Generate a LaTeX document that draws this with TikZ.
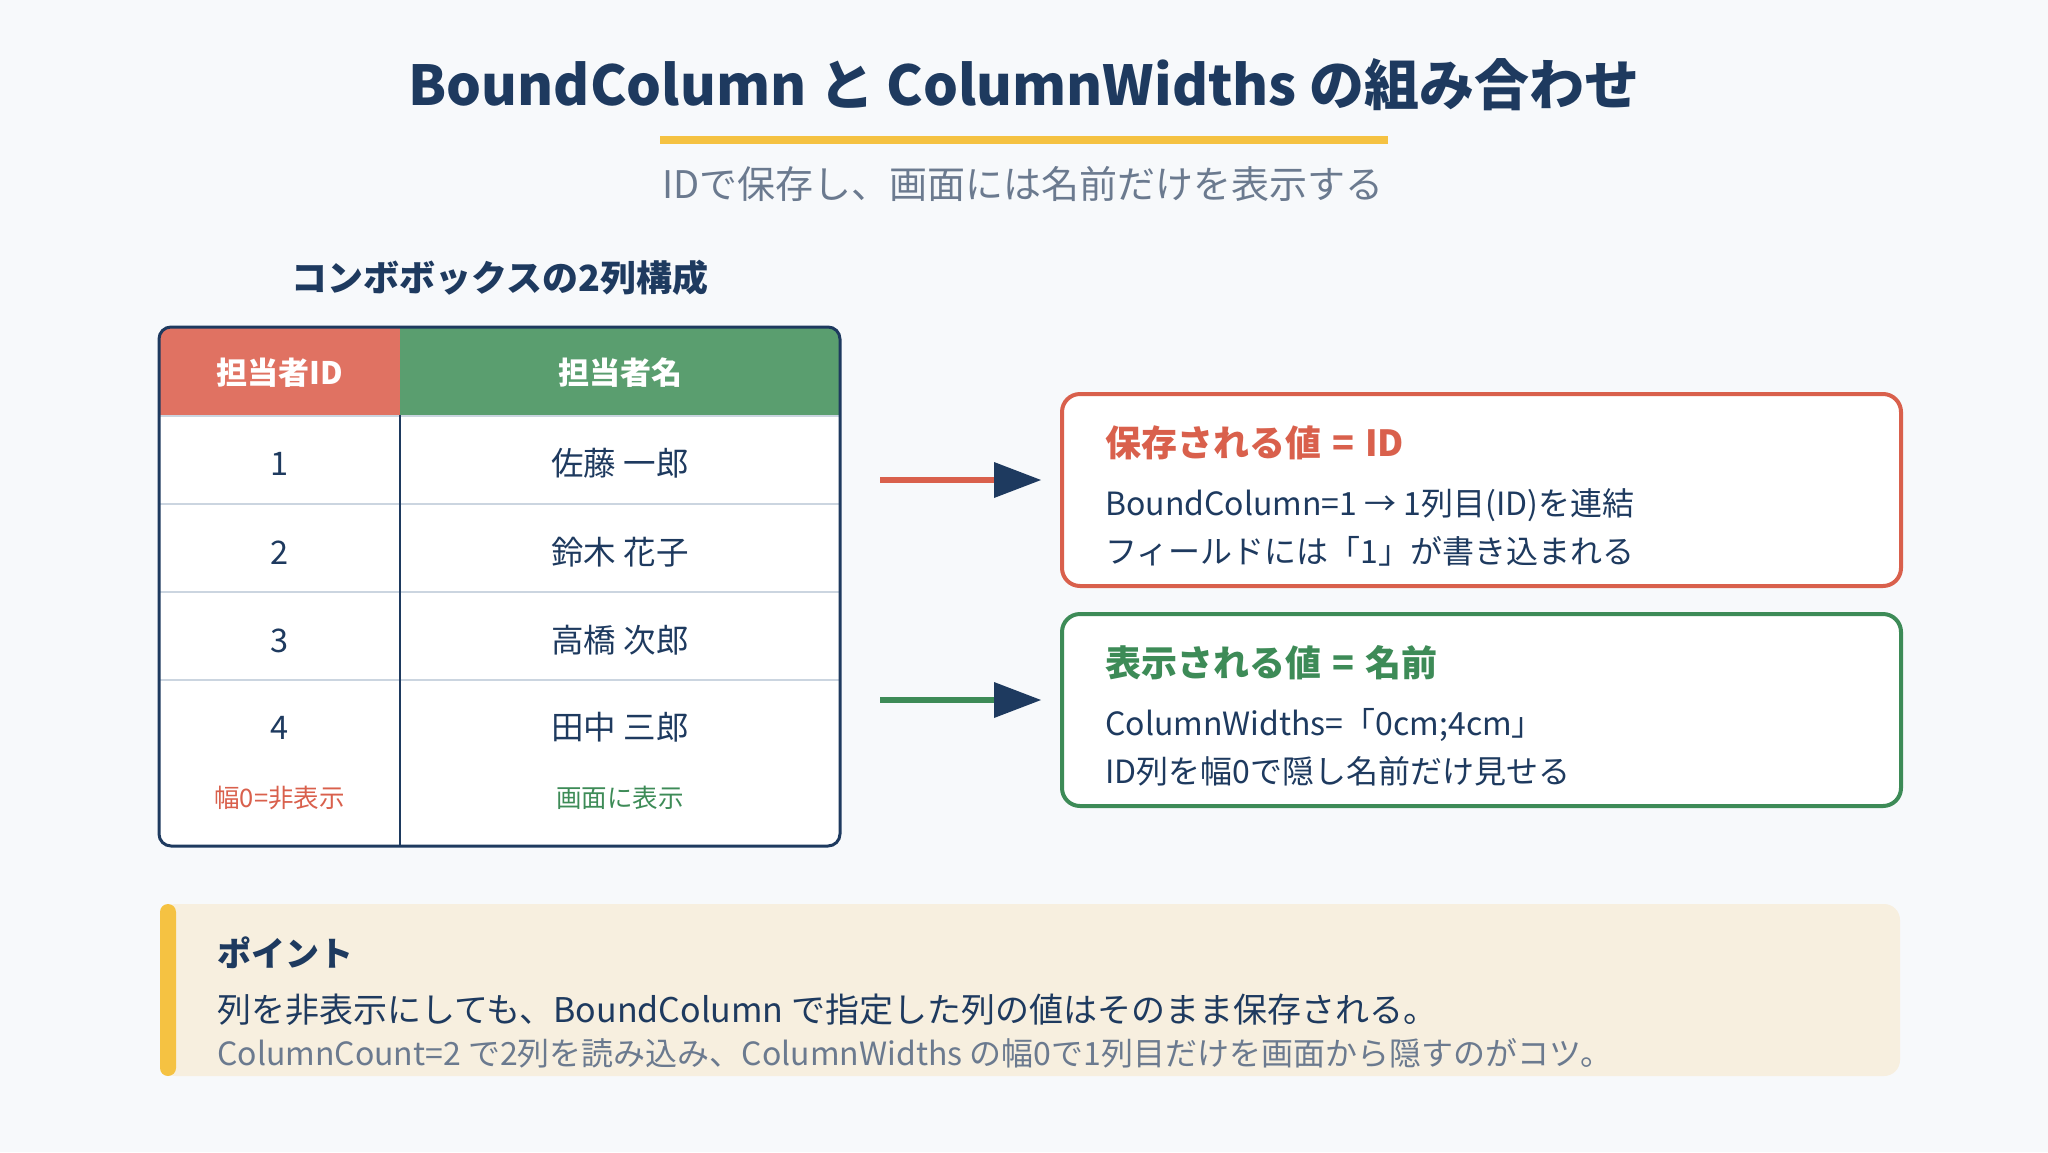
\documentclass[tikz,border=0pt]{standalone}
\usepackage{fontspec}
\setmainfont{Noto Sans CJK JP}
\usetikzlibrary{arrows.meta}
\definecolor{bcnavy}{HTML}{1E3A5F}
\definecolor{bcred}{HTML}{D9604C}
\definecolor{bcredhd}{HTML}{E07262}
\definecolor{bcgreen}{HTML}{3D8B57}
\definecolor{bcgreenhd}{HTML}{5A9E6F}
\definecolor{bcyellow}{HTML}{F5C242}
\definecolor{bccream}{HTML}{F7EFDF}
\definecolor{bcgrey}{HTML}{6B7A8F}
\definecolor{bcrule}{HTML}{CBD5E0}
\definecolor{bcbg}{HTML}{F7F9FB}
\newcommand{\bcsize}[1]{\fontsize{#1}{#1}\selectfont}
\newcommand{\bceq}{\hspace{11pt}=\hspace{11pt}}

\begin{document}
\begin{tikzpicture}[x=1pt,y=-1pt,
  cell/.style={anchor=base,inner sep=0,text=bcnavy,font=\bcsize{32.5}},
  boxttl/.style={anchor=base west,inner sep=0,font=\bcsize{36}\bfseries},
  boxln/.style={anchor=base west,inner sep=0,text=bcnavy,font=\bcsize{32}},
  valbox/.style={draw,line width=4,rounded corners=18,fill=white,minimum width=839,minimum height=192,anchor=north west,inner sep=0},
  flow/.style={line width=6,-{Triangle[length=47pt,width=36pt,line width=0pt,color=bcnavy]},shorten >=19pt}]
\useasboundingbox (0,0) rectangle (2048,1152);
\fill[bcbg] (0,0) rectangle (2048,1152);
% title
\node[anchor=base,inner sep=0,text=bcnavy,font=\bcsize{55}\bfseries] (title) at (1024,105) {BoundColumn と ColumnWidths の組み合わせ};
\fill[bcyellow] (660,136) rectangle (1388,144);
\node[anchor=base,inner sep=0,text=bcgrey,font=\bcsize{38}] (subtitle) at (1023,198) {IDで保存し、画面には名前だけを表示する};
% table
\node[anchor=base,inner sep=0,text=bcnavy,font=\bcsize{36}\bfseries] (tblhead) at (500,291) {コンボボックスの2列構成};
\begin{scope}
\clip[rounded corners=12] (159,327) rectangle (840,846);
\fill[white] (159,327) rectangle (840,846);
\fill[bcredhd] (159,327) rectangle (400,415);
\fill[bcgreenhd] (400,327) rectangle (840,415);
\end{scope}
\foreach \y in {416,504,592,680}
  \draw[bcrule,line width=2] (159,\y) -- (840,\y);
\draw[bcnavy,line width=2] (400,415) -- (400,846);
\draw[bcnavy,line width=3,rounded corners=12] (159,327) rectangle (840,846);
\node[cell,text=white,font=\bcsize{31}\bfseries] (hid) at (279.5,384) {担当者ID};
\node[cell,text=white,font=\bcsize{31}\bfseries] (hname) at (620,384) {担当者名};
\foreach \i/\nm/\y in {1/佐藤 一郎/475,2/鈴木 花子/564,3/高橋 次郎/652,4/田中 三郎/739}{
  \node[cell] (id\i) at (279.5,\y) {\i};
  \node[cell] (nm\i) at (620,\y) {\nm};
}
\node[cell,text=bcred,font=\bcsize{25.5}] (hidenote) at (279.5,807) {幅0=非表示};
\node[cell,text=bcgreen,font=\bcsize{25.5}] (shownote) at (620,807) {画面に表示};
% value boxes
\node[valbox,draw=bcred] (savebox) at (1060,392) {};
\node[boxttl,text=bcred] (savettl) at (1105,456) {保存される値\bceq ID};
\node[boxln] (saveln1) at (1105,515) {BoundColumn=1 → 1列目(ID)を連結};
\node[boxln] (saveln2) at (1105,563) {フィールドには「1」が書き込まれる};
\node[valbox,draw=bcgreen] (showbox) at (1060,612) {};
\node[boxttl,text=bcgreen] (showttl) at (1105,676) {表示される値\bceq 名前};
\node[boxln] (showln1) at (1105,735) {ColumnWidths=「0cm;4cm」};
\node[boxln] (showln2) at (1105,783) {ID列を幅0で隠し名前だけ見せる};
% arrows
\coordinate (savefrom) at (880,480);
\coordinate (showfrom) at (880,700);
\draw[flow,bcred] (savefrom) -- (savefrom -| savebox.west);
\draw[flow,bcgreen] (showfrom) -- (showfrom -| showbox.west);
% point
\fill[bccream,rounded corners=16] (160,904) rectangle (1900,1076);
\fill[bcyellow,rounded corners=8] (160,904) rectangle (176,1076);
\node[anchor=base west,inner sep=0,text=bcnavy,font=\bcsize{34}\bfseries] (pttl) at (217,966) {ポイント};
\node[anchor=base west,inner sep=0,text=bcnavy,font=\bcsize{34}] (pln1) at (217,1022) {列を非表示にしても、BoundColumn で指定した列の値はそのまま保存される。};
\node[anchor=base west,inner sep=0,text=bcgrey,font=\bcsize{32}] (pln2) at (217,1065) {ColumnCount=2 で2列を読み込み、ColumnWidths の幅0で1列目だけを画面から隠すのがコツ。};
\end{tikzpicture}
\end{document}
